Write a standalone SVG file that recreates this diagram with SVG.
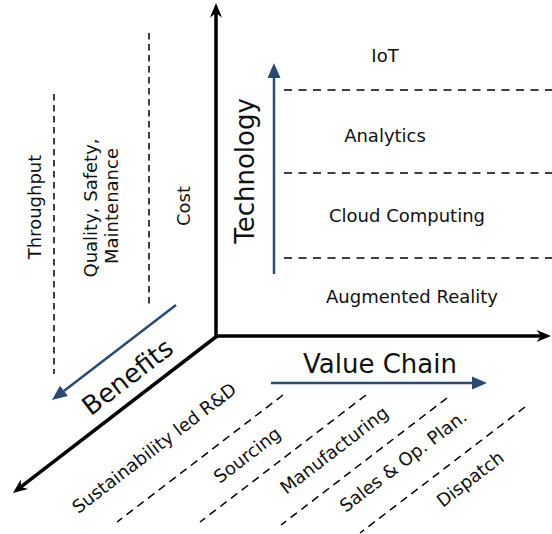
<svg xmlns="http://www.w3.org/2000/svg" width="552" height="534" viewBox="0 0 552 534">
<style>
text{font-family:"DejaVu Sans","Verdana",sans-serif;fill:#111;}
.s{font-size:18px;}
.l{font-size:26px;}
.axis{stroke:#000;stroke-width:3.5;fill:none;}
.blue{stroke:#2b4a6d;stroke-width:2.5;fill:none;}
.dh{stroke:#000;stroke-width:1.5;stroke-dasharray:8 6.5;fill:none;}
.dv{stroke:#000;stroke-width:1.5;stroke-dasharray:6.5 4.5;fill:none;}
.dd{stroke:#000;stroke-width:1.5;stroke-dasharray:8 5.5;fill:none;}
</style>
<defs>
<marker id="ah" markerUnits="userSpaceOnUse" viewBox="-6 -8 20 16" refX="0" refY="0" markerWidth="20" markerHeight="16" orient="auto">
<path d="M10,0 L-4.5,-6 L0,0 L-4.5,6 Z" fill="#000"/>
</marker>
<marker id="bh" markerUnits="userSpaceOnUse" viewBox="-2 -8 20 16" refX="0" refY="0" markerWidth="20" markerHeight="16" orient="auto">
<path d="M15,0 L0,-6.5 L0,6.5 Z" fill="#2b4a6d"/>
</marker>
</defs>
<g id="connectors">
<line class="dh" x1="284" y1="90" x2="552" y2="90"/>
<line class="dh" x1="284" y1="173" x2="552" y2="173"/>
<line class="dh" x1="284" y1="258" x2="552" y2="258"/>
<line class="dv" x1="54" y1="94" x2="54" y2="374"/>
<line class="dv" x1="149" y1="33" x2="149" y2="307"/>
<line class="dd" x1="283" y1="395" x2="117" y2="522"/>
<line class="dd" x1="366" y1="395" x2="200" y2="522"/>
<line class="dd" x1="447" y1="398" x2="281" y2="525"/>
<line class="dd" x1="525" y1="407" x2="360" y2="533"/>
<line class="axis" x1="216" y1="337" x2="216" y2="13" marker-end="url(#ah)"/>
<line class="axis" x1="215" y1="336" x2="541" y2="336" marker-end="url(#ah)"/>
<line class="axis" x1="217" y1="336" x2="20.9" y2="486.9" marker-end="url(#ah)"/>
<line class="blue" x1="274" y1="274" x2="274" y2="78" marker-end="url(#bh)"/>
<line class="blue" x1="271" y1="383" x2="472" y2="383" marker-end="url(#bh)"/>
<line class="blue" x1="176" y1="305" x2="63.9" y2="390.9" marker-end="url(#bh)"/>
</g>
<g id="technology-axis"><text class="l" text-anchor="middle" transform="translate(254,171) rotate(-90)">Technology</text></g>
<g id="value-chain-axis"><text class="l" text-anchor="middle" x="380" y="373">Value Chain</text></g>
<g id="benefits-axis"><text class="l" text-anchor="middle" transform="translate(133,384) rotate(-37.5)">Benefits</text></g>
<g id="iot"><text class="s" text-anchor="middle" x="385" y="62">IoT</text></g>
<g id="analytics"><text class="s" text-anchor="middle" x="385" y="142">Analytics</text></g>
<g id="cloud"><text class="s" text-anchor="middle" x="407" y="222">Cloud Computing</text></g>
<g id="ar"><text class="s" text-anchor="middle" x="412" y="303">Augmented Reality</text></g>
<g id="throughput"><text class="s" text-anchor="middle" transform="translate(41,207) rotate(-90)">Throughput</text></g>
<g id="quality"><text class="s" text-anchor="middle" transform="translate(97,208) rotate(-90)">Quality, Safety,</text><text class="s" text-anchor="middle" transform="translate(118,206) rotate(-90)">Maintenance</text></g>
<g id="cost"><text class="s" text-anchor="middle" transform="translate(190,206) rotate(-90)">Cost</text></g>
<g id="rnd"><text class="s" text-anchor="middle" transform="translate(158,453) rotate(-37.5)">Sustainability led R&amp;D</text></g>
<g id="sourcing"><text class="s" text-anchor="middle" transform="translate(251,460) rotate(-37.5)">Sourcing</text></g>
<g id="manufacturing"><text class="s" text-anchor="middle" transform="translate(338,455) rotate(-37.5)">Manufacturing</text></g>
<g id="sales"><text class="s" text-anchor="middle" transform="translate(407,466) rotate(-37.5)">Sales &amp; Op. Plan.</text></g>
<g id="dispatch"><text class="s" text-anchor="middle" transform="translate(474,484) rotate(-37.5)">Dispatch</text></g>
</svg>
